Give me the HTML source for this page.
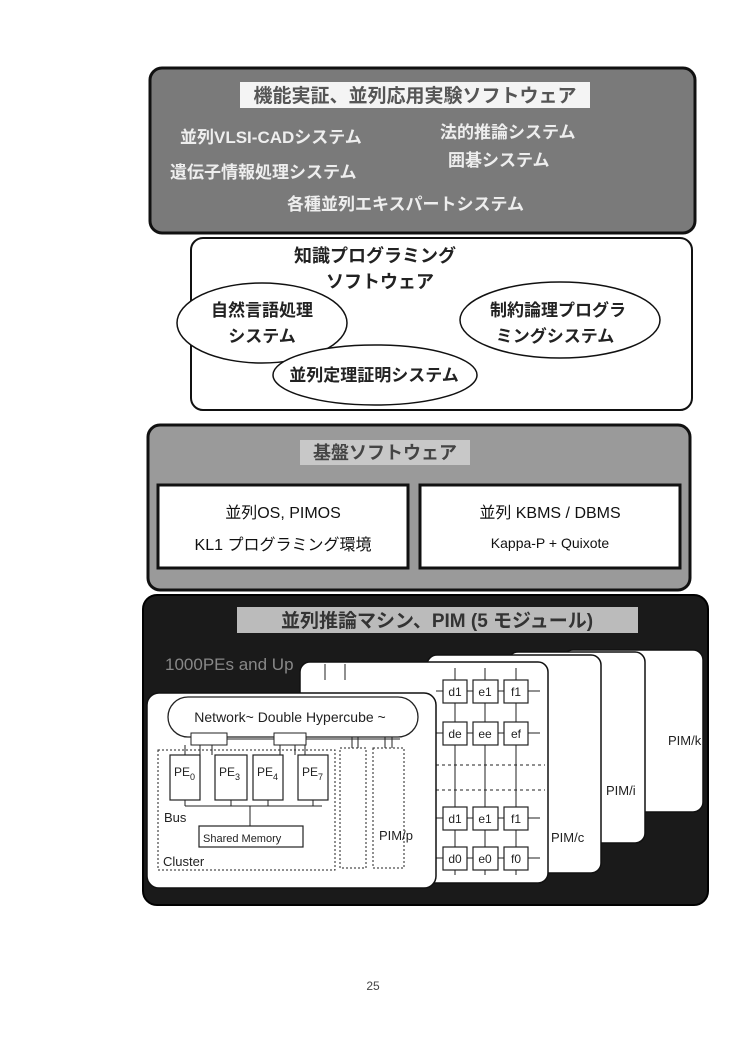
<!DOCTYPE html>
<html><head><meta charset="utf-8"><style>
body{margin:0;background:#fff;width:750px;height:1054px;position:relative;overflow:hidden;font-family:"Liberation Sans","Noto Sans CJK JP",sans-serif}
</style></head><body>
<svg width="750" height="1054" style="position:absolute;left:0;top:0" font-family="Liberation Sans, Noto Sans CJK JP, sans-serif">
<!-- Box 1 -->
<rect x="150" y="68" width="545" height="165" rx="12" fill="#7a7a7a" stroke="#111" stroke-width="3"/>
<rect x="240" y="82" width="350" height="26" fill="#f4f4f4"/>
<text x="415" y="102" font-size="19" font-weight="bold" text-anchor="middle" fill="#555">機能実証、並列応用実験ソフトウェア</text>
<g fill="#eee" font-size="17" font-weight="bold">
<text x="180" y="143">並列VLSI-CADシステム</text>
<text x="440" y="138">法的推論システム</text>
<text x="448" y="166">囲碁システム</text>
<text x="170" y="178">遺伝子情報処理システム</text>
<text x="287" y="210">各種並列エキスパートシステム</text>
</g>
<!-- Box 2 -->
<rect x="191" y="238" width="501" height="172" rx="12" fill="#fff" stroke="#111" stroke-width="2"/>
<text x="375" y="262" font-size="18" font-weight="bold" text-anchor="middle" fill="#222">知識プログラミング</text>
<text x="380" y="288" font-size="18" font-weight="bold" text-anchor="middle" fill="#222">ソフトウェア</text>
<ellipse cx="262" cy="323" rx="85" ry="40" fill="#fff" stroke="#111" stroke-width="1.5"/>
<ellipse cx="560" cy="320" rx="100" ry="38" fill="#fff" stroke="#111" stroke-width="1.5"/>
<ellipse cx="375" cy="375" rx="102" ry="30" fill="#fff" stroke="#111" stroke-width="1.5"/>
<g font-size="17" font-weight="bold" fill="#222" text-anchor="middle">
<text x="262" y="316">自然言語処理</text>
<text x="262" y="342">システム</text>
<text x="558" y="316">制約論理プログラ</text>
<text x="555" y="342">ミングシステム</text>
<text x="374" y="381">並列定理証明システム</text>
</g>
<!-- Box 3 -->
<rect x="148" y="425" width="542" height="165" rx="12" fill="#9a9a9a" stroke="#111" stroke-width="3"/>
<rect x="300" y="440" width="170" height="25" fill="#c8c8c8"/>
<text x="385" y="459" font-size="18" font-weight="bold" text-anchor="middle" fill="#444">基盤ソフトウェア</text>
<rect x="158" y="485" width="250" height="83" fill="#fff" stroke="#111" stroke-width="3"/>
<rect x="420" y="485" width="260" height="83" fill="#fff" stroke="#111" stroke-width="3"/>
<g fill="#111" text-anchor="middle">
<text x="283" y="518" font-size="16">並列OS, PIMOS</text>
<text x="283" y="550" font-size="16">KL1 プログラミング環境</text>
<text x="550" y="518" font-size="16">並列 KBMS / DBMS</text>
<text x="550" y="548" font-size="14">Kappa-P + Quixote</text>
</g>
<!-- Box 4 -->
<rect x="143" y="595" width="565" height="310" rx="14" fill="#1a1a1a" stroke="#000" stroke-width="2"/>
<rect x="237" y="607" width="401" height="26" fill="#bbb"/>
<text x="437" y="627" font-size="19" font-weight="bold" text-anchor="middle" fill="#333">並列推論マシン、PIM (5 モジュール)</text>
<text x="165" y="670" font-size="17" fill="#888">1000PEs and Up</text>
<g stroke="#111" stroke-width="1.5" fill="#fff">
<rect x="563" y="650" width="140" height="162" rx="10"/>
<rect x="508" y="652" width="137" height="191" rx="10"/>
<rect x="427" y="655" width="174" height="218" rx="10"/>
<rect x="300" y="662" width="248" height="221" rx="10"/>
</g>
<g font-size="13" fill="#222">
<text x="668" y="745">PIM/k</text>
<text x="606" y="795">PIM/i</text>
<text x="551" y="842">PIM/c</text>
</g>
<!-- grid -->
<g stroke="#222" stroke-width="1" fill="none">
<line x1="455" y1="668" x2="455" y2="875"/><line x1="485" y1="668" x2="485" y2="875"/><line x1="516" y1="668" x2="516" y2="875"/>
<line x1="436" y1="691" x2="540" y2="691"/><line x1="436" y1="733" x2="540" y2="733"/><line x1="436" y1="818" x2="540" y2="818"/><line x1="436" y1="858" x2="540" y2="858"/>
<line x1="436" y1="765" x2="545" y2="765" stroke-dasharray="3,3"/><line x1="436" y1="790" x2="545" y2="790" stroke-dasharray="3,3"/>
<line x1="325" y1="664" x2="325" y2="680"/><line x1="345" y1="664" x2="345" y2="680"/>
</g>
<g fill="#fff" stroke="#222" stroke-width="1.2">
<rect x="443" y="680" width="24" height="23"/><rect x="473" y="680" width="25" height="23"/><rect x="504" y="680" width="24" height="23"/>
<rect x="443" y="722" width="24" height="23"/><rect x="473" y="722" width="25" height="23"/><rect x="504" y="722" width="24" height="23"/>
<rect x="443" y="807" width="24" height="23"/><rect x="473" y="807" width="25" height="23"/><rect x="504" y="807" width="24" height="23"/>
<rect x="443" y="847" width="24" height="23"/><rect x="473" y="847" width="25" height="23"/><rect x="504" y="847" width="24" height="23"/>
</g>
<g font-size="12" fill="#222" text-anchor="middle">
<text x="455" y="696">d1</text><text x="485" y="696">e1</text><text x="516" y="696">f1</text>
<text x="455" y="738">de</text><text x="485" y="738">ee</text><text x="516" y="738">ef</text>
<text x="455" y="823">d1</text><text x="485" y="823">e1</text><text x="516" y="823">f1</text>
<text x="455" y="863">d0</text><text x="485" y="863">e0</text><text x="516" y="863">f0</text>
</g>
<!-- front card -->
<rect x="147" y="693" width="289" height="195" rx="12" fill="#fff" stroke="#111" stroke-width="1.5"/>
<rect x="168" y="697" width="250" height="40" rx="20" fill="#fff" stroke="#222" stroke-width="1.3"/>
<text x="290" y="722" font-size="14" text-anchor="middle" fill="#222">Network~ Double Hypercube ~</text>
<g fill="#fff" stroke="#222" stroke-width="1">
<rect x="191" y="733" width="36" height="12"/><rect x="274" y="733" width="32" height="12"/>
</g>
<g stroke="#222" stroke-width="1" fill="none">
<line x1="227" y1="739" x2="274" y2="739"/><line x1="306" y1="739" x2="400" y2="739"/>
<line x1="185" y1="745" x2="185" y2="755"/><line x1="200" y1="745" x2="200" y2="755"/><line x1="212" y1="745" x2="212" y2="755"/>
<line x1="280" y1="745" x2="280" y2="755"/><line x1="295" y1="745" x2="295" y2="755"/><line x1="305" y1="745" x2="305" y2="755"/>
<line x1="352" y1="737" x2="352" y2="748"/><line x1="358" y1="737" x2="358" y2="748"/><line x1="385" y1="737" x2="385" y2="748"/><line x1="392" y1="737" x2="392" y2="748"/>
<rect x="158" y="750" width="177" height="120" stroke-dasharray="2,2"/>
<rect x="340" y="748" width="26" height="120" stroke-dasharray="2,2"/>
<rect x="373" y="748" width="31" height="120" stroke-dasharray="2,2"/>
<line x1="185" y1="806" x2="322" y2="806"/><line x1="250" y1="806" x2="250" y2="826"/>
<line x1="185" y1="800" x2="185" y2="806"/><line x1="231" y1="800" x2="231" y2="806"/><line x1="268" y1="800" x2="268" y2="806"/><line x1="313" y1="800" x2="313" y2="806"/>
</g>
<g fill="#fff" stroke="#222" stroke-width="1.2">
<rect x="170" y="755" width="30" height="45"/><rect x="215" y="755" width="32" height="45"/><rect x="253" y="755" width="30" height="45"/><rect x="298" y="755" width="30" height="45"/>
<rect x="199" y="826" width="104" height="21"/>
</g>
<g font-size="12" fill="#222">
<text x="174" y="776">PE<tspan font-size="9" dy="4">0</tspan></text>
<text x="219" y="776">PE<tspan font-size="9" dy="4">3</tspan></text>
<text x="257" y="776">PE<tspan font-size="9" dy="4">4</tspan></text>
<text x="302" y="776">PE<tspan font-size="9" dy="4">7</tspan></text>
<text x="164" y="822" font-size="13">Bus</text>
<text x="203" y="842" font-size="11">Shared Memory</text>
<text x="163" y="866" font-size="13">Cluster</text>
<text x="379" y="840" font-size="13">PIM/p</text>
</g>
<text x="373" y="990" font-size="12" text-anchor="middle" fill="#444">25</text>
</svg>
</body></html>
